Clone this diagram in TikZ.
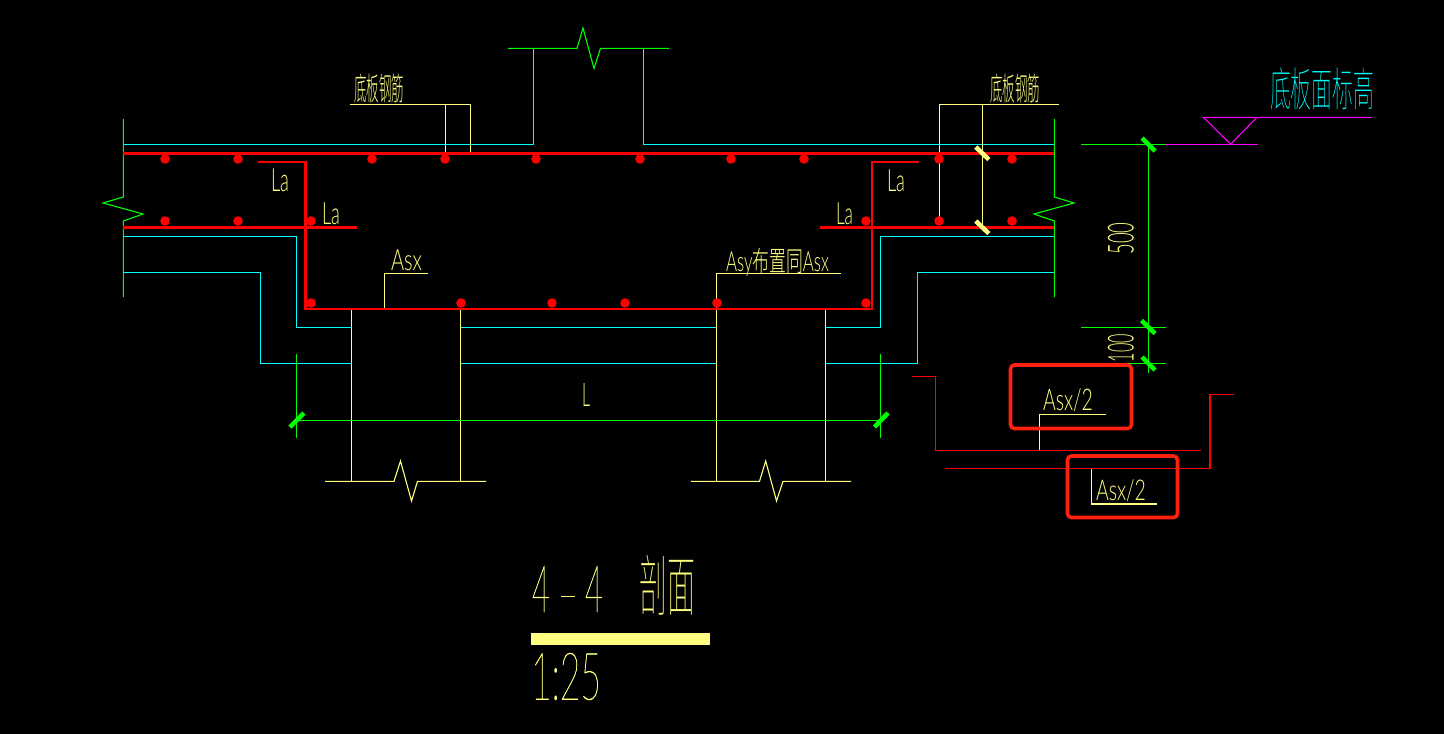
\documentclass[tikz,border=0pt]{standalone}
\usepackage{graphicx}
\usepackage{fontspec}
\setmainfont{Lato}[UprightFont=* Light]
\newfontfamily\cadthin{Lato}[UprightFont=* Hairline,UprightFeatures={FakeBold=0.8}]
\newfontfamily\cjkcad{Noto Sans CJK SC}[UprightFont=* Light]
\newfontfamily\cjkthin{Noto Sans CJK SC}[UprightFont=* Thin]
\definecolor{cadyellow}{HTML}{FFFF80}
\definecolor{cadcyan}{HTML}{00FFFF}
\definecolor{cadgreen}{HTML}{00FF00}
\definecolor{cadred}{HTML}{FF0000}
\definecolor{cadmag}{HTML}{FF00FF}
\definecolor{markred}{HTML}{FF2010}
\tikzset{
  x=1pt,y=-1pt,
  thin1/.style={line width=1.1pt,line join=miter},
  yl/.style={thin1,draw=cadyellow},
  cy/.style={thin1,draw=cadcyan},
  gr/.style={thin1,draw=cadgreen},
  mg/.style={thin1,draw=cadmag},
  rebar/.style={line width=3.2pt,draw=cadred},
  rebarthin/.style={line width=2pt,draw=cadred},
  rebarfine/.style={line width=1.5pt,draw=cadred},
  tickg/.style={line width=4.5pt,draw=cadgreen},
  ticky/.style={line width=4.5pt,draw=cadyellow},
  dot/.style={circle,fill=cadred,inner sep=0pt,minimum size=9.6pt},
  markbox/.style={line width=3.6pt,draw=markred,rounded corners=4pt},
  cadtxt/.style={inner sep=0pt,outer sep=0pt,text=cadyellow},
}
% name, left, top, right, bottom, text
\newcommand{\cadlabel}[7][cadtxt]{%
  \node[#1,anchor=center] (#2) at ({(#3+#5)/2},{(#4+#6)/2})
    {\resizebox*{\dimexpr#5pt-#3pt\relax}{\dimexpr#6pt-#4pt\relax}{#7}};}
\begin{document}
\begin{tikzpicture}
\useasboundingbox[fill=black] (0,0) rectangle (1444,734);

% slab top face and column
\draw[cy] (123,144.3) -- (533.5,144.3) -- (533.5,48.3);
\draw[cy] (643.5,48.3) -- (643.5,144.3) -- (1054,144.3);
\draw[gr] (508,48.3) -- (577,48.3) -- (583,28) -- (594,68.5) -- (600.5,48.3) -- (669,48.3);

% break lines at slab ends
\draw[gr] (123.3,119) -- (123.3,197) -- (103,203) -- (143,214) -- (123.3,221) -- (123.3,297);
\draw[gr] (1054.3,119) -- (1054.3,197) -- (1074,203) -- (1034,214) -- (1054.3,221) -- (1054.3,297);

% cyan steps
\draw[cy] (123,236.7) -- (296.3,236.7) -- (296.3,327.3) -- (351,327.3);
\draw[cy] (123,272.3) -- (260.3,272.3) -- (260.3,363.3) -- (351,363.3);
\draw[cy] (460,327.3) -- (717,327.3);
\draw[cy] (460,363.3) -- (717,363.3);
\draw[cy] (825,327.3) -- (880.3,327.3) -- (880.3,236.7) -- (1054,236.7);
\draw[cy] (825,363.3) -- (917.3,363.3) -- (917.3,272.3) -- (1054,272.3);

% piles
\draw[yl] (351.3,309) -- (351.3,481.3);
\draw[yl] (460.3,309) -- (460.3,481.3);
\draw[yl] (716.5,273.3) -- (716.5,481.3);
\draw[yl] (825.3,309) -- (825.3,481.3);
\draw[yl] (325,481.3) -- (394,481.3) -- (400.5,461) -- (411.5,501) -- (417.5,481.3) -- (486,481.3);
\draw[yl] (691,481.3) -- (759.5,481.3) -- (765.7,461) -- (776.5,501) -- (783,481.3) -- (851,481.3);

% leaders
\draw[yl] (350,104.3) -- (470.3,104.3) -- (470.3,153);
\draw[yl] (445.3,104.3) -- (445.3,153);
\draw[yl] (1058.5,104.3) -- (939.3,104.3) -- (939.3,221);
\draw[yl] (982.3,104.3) -- (982.3,227);
\draw[yl] (384.3,308) -- (384.3,273.3) -- (428,273.3);
\draw[yl] (716.5,273.3) -- (841,273.3);

% rebars
\draw[rebar] (123,153.5) -- (1054,153.5);
\draw[rebar] (123,227.3) -- (357,227.3);
\draw[rebar] (820,227.3) -- (1054,227.3);
\draw[rebarthin] (258,162) -- (305.3,162);
\draw[rebar] (305.3,161) -- (305.3,309.5);
\draw[rebarthin] (304,308.7) -- (872.6,308.7);
\draw[rebarthin] (919,162) -- (871.7,162) -- (871.7,308.7);

\foreach \n/\px in {a/165,b/238,c/372,d/445,e/536,f/640,g/731,h/804,i/939,j/1012}
  \node[dot] (t\n) at (\px,159) {};
\foreach \n/\px in {a/165,b/238,c/311,d/866,e/939,f/1012}
  \node[dot] (m\n) at (\px,221) {};
\foreach \n/\px in {a/311,b/461,c/552,d/625,e/717,f/866}
  \node[dot] (b\n) at (\px,303) {};

% yellow ticks
\draw[ticky] (975.8,147) -- (988.8,159.5);
\draw[ticky] (975.8,221) -- (988.8,233.5);

% dimensions
\draw[gr] (296.3,354) -- (296.3,437.5);
\draw[gr] (880.3,354) -- (880.3,437.5);
\draw[gr] (296.3,420.3) -- (880.3,420.3);
\draw[tickg] (290,427) -- (304,413);
\draw[tickg] (874.5,427) -- (888,413);
\draw[gr] (1081,144.3) -- (1166,144.3);
\draw[gr] (1081,327.3) -- (1166,327.3);
\draw[gr] (1081,363.3) -- (1166,363.3);
\draw[gr] (1148.3,144.3) -- (1148.3,372.7);
\draw[tickg] (1142,138) -- (1155,151);
\draw[tickg] (1141.5,320.5) -- (1155,333.5);
\draw[tickg] (1142,357) -- (1155,370);

% elevation mark
\draw[mg] (1166,144.3) -- (1258,144.3);
\draw[mg] (1372,117.3) -- (1203.3,117.3) -- (1230.6,144.3) -- (1257,117.3);

% separated bars
\draw[rebarfine] (912,376.3) -- (935.7,376.3) -- (935.7,450.3) -- (1201,450.3);
\draw[rebarfine] (945,468.3) -- (1210,468.3) -- (1210,394.7) -- (1234,394.7);
\draw[yl] (1039.3,450) -- (1039.3,414.3) -- (1106,414.3);
\draw[yl] (1091.3,469) -- (1091.3,504) -- (1157,504);

% highlight boxes
\draw[markbox] (1010.5,365) rectangle (1131.5,428.5);
\draw[markbox] (1067.5,456) rectangle (1177.5,517.5);

% title bar
\fill[cadyellow] (531,633) rectangle (710,645);

% texts
\cadlabel{tl}{354}{74}{404}{103}{\cjkcad 底板钢筋}
\cadlabel{tr}{990}{74}{1040}{103}{\cjkcad 底板钢筋}
\cadlabel[cadtxt,text=cadcyan]{elev}{1270}{68}{1374}{110}{\cjkthin 底板面标高}
\cadlabel{la}{271}{169}{289}{192}{La}
\cadlabel{lb}{322}{203}{340}{225}{La}
\cadlabel{lc}{887}{170}{905}{192}{La}
\cadlabel{ld}{836}{203}{853}{225}{La}
\cadlabel{asx}{391}{250}{422}{271}{Asx}
\cadlabel{asy}{726}{248}{829}{276}{Asy{\cjkcad 布置同}Asx}
\cadlabel{dimL}{582}{383}{590}{406}{L}
\cadlabel{asa}{1043}{389}{1093}{412}{Asx/2}
\cadlabel{asb}{1096}{480}{1146}{502}{Asx/2}
\node[cadtxt,rotate=90] (d500) at (1121,238.5) {\resizebox*{32pt}{26pt}{500}};
\node[cadtxt,rotate=90] (d100) at (1121,348) {\resizebox*{28pt}{26pt}{100}};
\cadlabel{t44a}{532}{566}{550}{612}{\cadthin 4}
\node[cadtxt] (t44b) at (568,596.5) {\rule{14pt}{1pt}};
\cadlabel{t44c}{585}{566}{603}{612}{\cadthin 4}
\cadlabel{tsec}{639}{555}{695}{615}{\cjkthin 剖面}
\cadlabel{scale}{531}{653}{601}{700}{\cadthin 1:25}
\end{tikzpicture}
\end{document}
